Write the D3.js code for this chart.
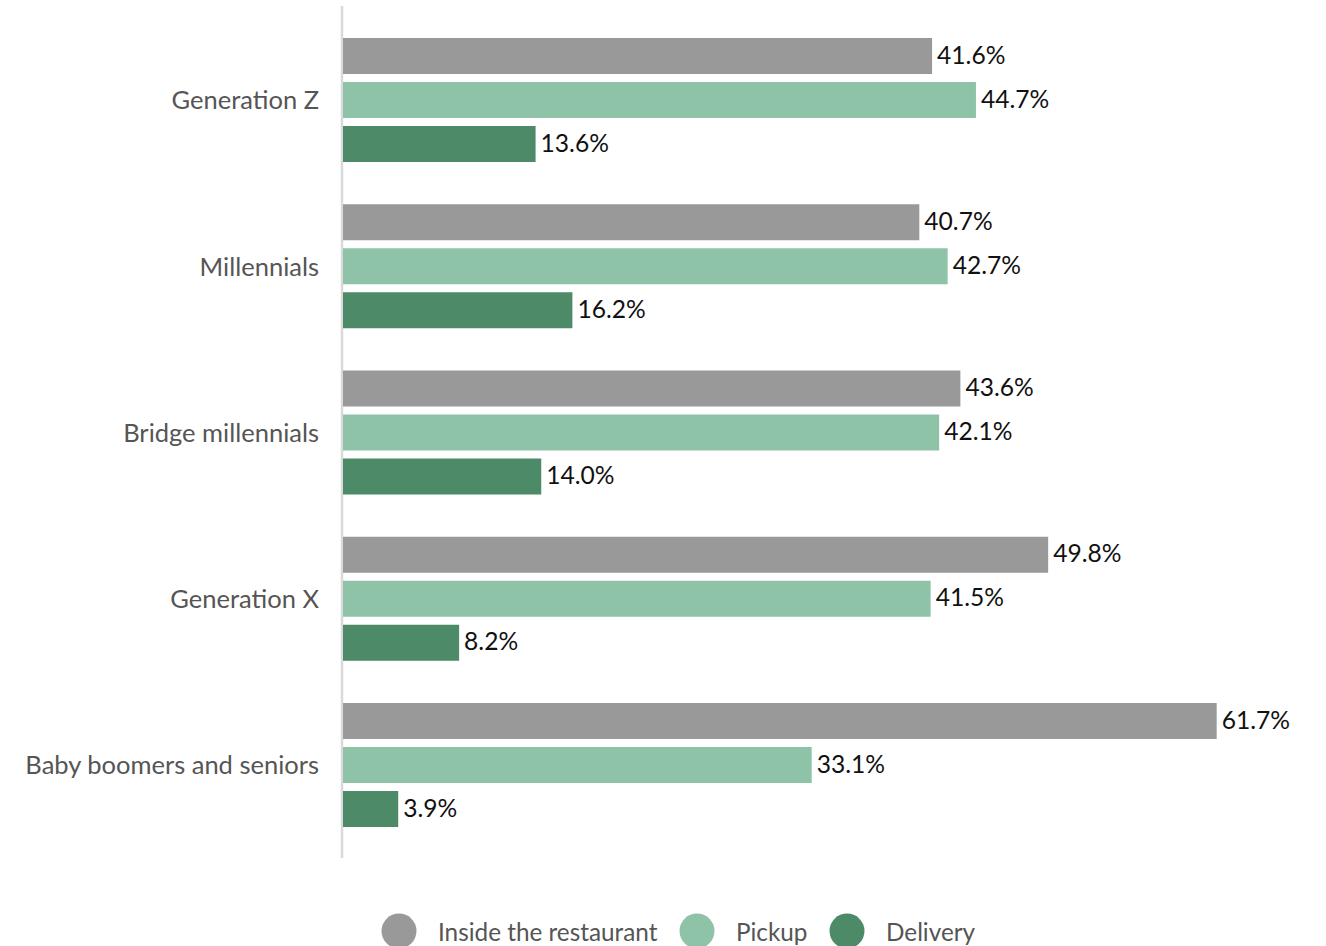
<!DOCTYPE html>
<html>
<head>
<meta charset="utf-8">
<script src="https://cdn.jsdelivr.net/npm/d3@7"></script>
<style>
  html, body { margin: 0; padding: 0; background: #fff; }
  svg { display: block; font-family: Lato, "Open Sans", sans-serif; }
</style>
</head>
<body>
<svg id="chart" width="1326" height="946"></svg>
<script>
// Dining preference by generation (share of respondents, %)
const categories = ["Generation Z", "Millennials", "Bridge millennials", "Generation X", "Baby boomers and seniors"];
const seriesNames = ["Inside the restaurant", "Pickup", "Delivery"];
const insideValues = [41.6, 40.7, 43.6, 49.8, 61.7];
const pickupValues = [44.7, 42.7, 42.1, 41.5, 33.1];
const deliveryValues = [13.6, 16.2, 14.0, 8.2, 3.9];
const seriesColors = ["#999999", "#8ec3a7", "#4c8a68"];

const seriesValues = [insideValues, pickupValues, deliveryValues];
const rows = categories.map((c, i) => ({
  category: c,
  values: seriesNames.map((s, j) => ({ series: s, value: seriesValues[j][i], color: seriesColors[j] }))
}));

const svg = d3.select("#chart");

const x = d3.scaleLinear().domain([0, 70]).range([343, 343 + 70 * 14.16]);
const y0 = d3.scaleBand().domain(categories).range([22, 853.25]).padding(0);
const y1 = d3.scaleBand().domain(seriesNames).range([16, 140]).paddingInner(8 / 44).paddingOuter(0);

// vertical baseline
svg.append("line")
  .attr("x1", 342).attr("x2", 342)
  .attr("y1", 6).attr("y2", 858)
  .attr("stroke", "#d9d9d9").attr("stroke-width", 2.5);

const groups = svg.selectAll("g.group")
  .data(rows)
  .join("g")
  .attr("class", "group")
  .attr("transform", d => `translate(0,${y0(d.category)})`);

groups.selectAll("rect")
  .data(d => d.values)
  .join("rect")
  .attr("x", x(0))
  .attr("y", d => y1(d.series))
  .attr("width", d => x(d.value) - x(0))
  .attr("height", y1.bandwidth())
  .attr("fill", d => d.color);

groups.selectAll("text.value")
  .data(d => d.values)
  .join("text")
  .attr("class", "value")
  .attr("x", d => x(d.value) + 5)
  .attr("y", d => y1(d.series) + y1.bandwidth() / 2 - 1)
  .attr("dy", "0.35em")
  .attr("font-size", 24.6)
  .attr("fill", "#111")
  .text(d => d.value.toFixed(1) + "%");

groups.append("text")
  .attr("class", "cat")
  .attr("x", 319)
  .attr("y", y1("Pickup") + y1.bandwidth() / 2 + 0.5)
  .attr("dy", "0.35em")
  .attr("text-anchor", "end")
  .attr("font-size", 25.5)
  .attr("fill", "#555")
  .text(d => d.category);

// legend
const legendItems = [
  { name: seriesNames[0], color: seriesColors[0], cx: 399 },
  { name: seriesNames[1], color: seriesColors[1], cx: 697 },
  { name: seriesNames[2], color: seriesColors[2], cx: 847 }
];
const legend = svg.append("g").attr("class", "legend");
legend.selectAll("circle")
  .data(legendItems)
  .join("circle")
  .attr("cx", d => d.cx)
  .attr("cy", 931)
  .attr("r", 17.5)
  .attr("fill", d => d.color);
legend.selectAll("text")
  .data(legendItems)
  .join("text")
  .attr("x", d => d.cx + 39)
  .attr("y", 932)
  .attr("dy", "0.35em")
  .attr("font-size", 24.3)
  .attr("fill", "#555")
  .text(d => d.name);
</script>
</body>
</html>
